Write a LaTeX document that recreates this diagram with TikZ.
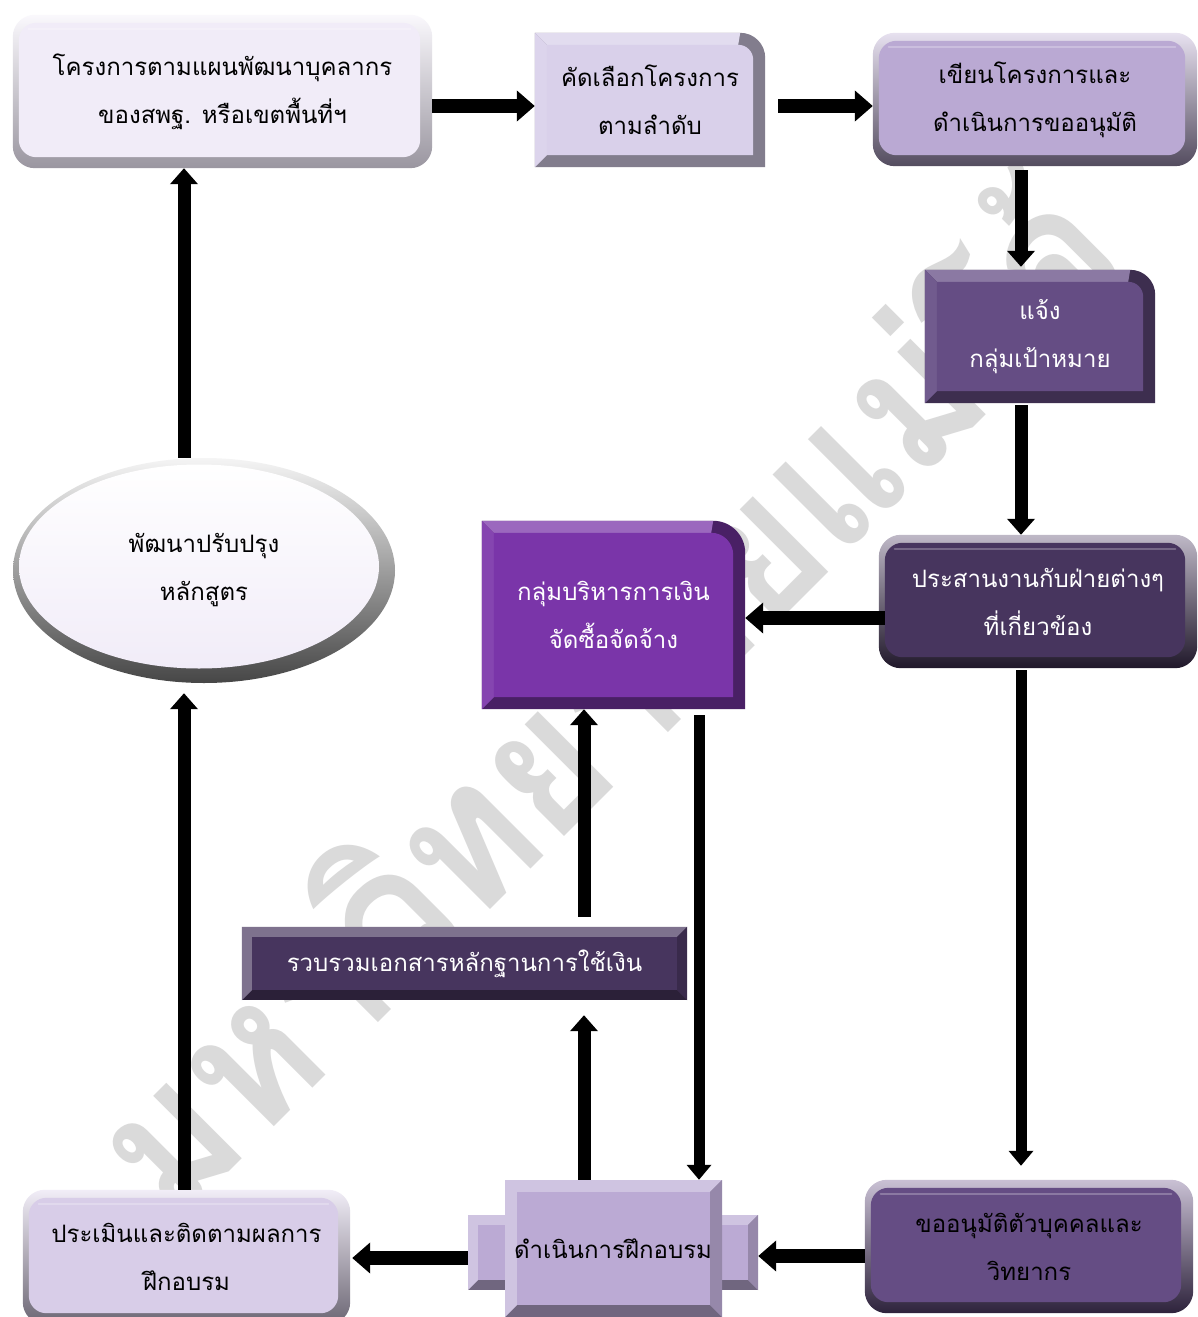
\documentclass[tikz,border=0pt]{standalone}
\usepackage{fontspec}
\newfontfamily\thai[Script=Thai]{Loma}
\usetikzlibrary{arrows.meta,calc,shapes.geometric}
\pgfdeclarelayer{wmlayer}
\pgfdeclarelayer{bglayer}
\pgfsetlayers{wmlayer,bglayer,main}
\definecolor{cA}{HTML}{F1ECF8}
\definecolor{rimA}{HTML}{9A96A0}
\definecolor{cB}{HTML}{D9D0EA}
\definecolor{cC}{HTML}{BAA9D3}
\definecolor{cD}{HTML}{654D84}
\definecolor{cE}{HTML}{47355E}
\definecolor{cF}{HTML}{7A35A9}
\definecolor{cH}{HTML}{654D84}
\definecolor{cI}{HTML}{BBAAD4}
\definecolor{cJ}{HTML}{D8CDE8}
\definecolor{wmc}{HTML}{DADADA}
\tikzset{
  txt/.style={font=\thai\fontsize{24}{48}\selectfont, align=center, inner sep=0pt, text=black},
  wtxt/.style={txt, text=white},
  arr/.style={draw=black, line width=14pt, -{Triangle[width=30pt,length=18pt]}},
  arrv/.style={draw=black, line width=13pt, -{Triangle[width=27pt,length=16pt]}},
  arrthin/.style={draw=black, line width=11pt, -{Triangle[width=24pt,length=15pt]}},
  wmark/.style={font=\thai\bfseries\fontsize{192}{220}\selectfont, text=wmc, inner sep=0pt}
}
% rounded convex box
\newcommand\bevround[4]{%
  \shade[rounded corners=#4, top color=#2!35!white, bottom color=#3] (#1.south west) rectangle (#1.north east);
  \fill[#2, rounded corners=#4*0.8] ($(#1.south west)+(6,11)$) rectangle ($(#1.north east)+(-12,-8)$);
  \draw[white, opacity=0.25, line width=2.5pt, line cap=round] ($(#1.north west)+(16,-14)$) -- ($(#1.north east)+(-22,-14)$);
}
% rectangle with chamfer bevel, given corners
\newcommand\bevrect[4]{%
  \coordinate (bsw) at #1; \coordinate (bne) at #2;
  \coordinate (bnw) at (bsw |- bne); \coordinate (bse) at (bne |- bsw);
  \coordinate (isw) at ($(bsw)+(#4,#4)$); \coordinate (ine) at ($(bne)+(-#4,-#4)$);
  \coordinate (inw) at (isw |- ine); \coordinate (ise) at (ine |- isw);
  \fill[#3!60!black] (bsw) rectangle (bne);
  \fill[#3!70!white] (bsw) -- (bnw) -- (bne) -- (ine) -- (inw) -- (isw) -- cycle;
  \fill[#3!80!black] (bse) -- (bne) -- (ine) -- (ise) -- cycle;
  \fill[#3] (isw) rectangle (ine);
}
% box with one rounded corner (north east) and chamfer bevel
\newcommand\bevcorner[3]{%
  \coordinate (bsw) at (#1.south west); \coordinate (bne) at (#1.north east);
  \coordinate (bnw) at (#1.north west); \coordinate (bse) at (#1.south east);
  \coordinate (isw) at ($(bsw)+(12,12)$); \coordinate (ine) at ($(bne)+(-12,-12)$);
  \coordinate (inw) at (isw |- ine); \coordinate (ise) at (ine |- isw);
  \fill[#2!60!black] (bsw) -- (bnw) -- ($(bne)+(-#3,0)$) arc[start angle=90,end angle=0,radius=#3] -- (bse) -- cycle;
  \fill[#2!75!white] (bnw) -- ($(bne)+(-#3,0)$) -- ($(ine)+(-#3+10,0)$) -- (inw) -- cycle;
  \fill[#2!92!white] (bsw) -- (bnw) -- (inw) -- (isw) -- cycle;
  \fill[#2] (isw) -- (inw) -- ($(ine)+(-#3+10,0)$) arc[start angle=90,end angle=0,radius=#3-10] -- (ise) -- cycle;
}
\begin{document}
\begin{tikzpicture}[x=1pt,y=1pt]
\useasboundingbox (0,0) rectangle (1197,-1317);

% ---------- nodes ----------
\node[txt, minimum width=419pt, minimum height=153pt] (A) at (222.5,-91.5) {โครงการตามแผนพัฒนาบุคลากร\\ของสพฐ. หรือเขตพื้นที่ฯ};
\node[txt, minimum width=230pt, minimum height=134pt] (B) at (650,-100) {คัดเลือกโครงการ\\ตามลำดับ};
\node[txt, minimum width=324pt, minimum height=133pt] (C) at (1035,-99.5) {เขียนโครงการและ\\ดำเนินการขออนุมัติ};
\node[wtxt, minimum width=230pt, minimum height=133pt] (D) at (1040,-336.5) {แจ้ง\\กลุ่มเป้าหมาย};
\node[wtxt, minimum width=318pt, minimum height=133pt] (E) at (1038,-601.5) {ประสานงานกับฝ่ายต่างๆ\\ที่เกี่ยวข้อง};
\node[wtxt, minimum width=263pt, minimum height=188pt] (F) at (613.5,-615) {กลุ่มบริหารการเงิน\\จัดซื้อจัดจ้าง};
\node[wtxt, minimum width=445pt, minimum height=73pt] (G) at (464.5,-963.5) {รวบรวมเอกสารหลักฐานการใช้เงิน};
\node[txt, minimum width=328pt, minimum height=133pt] (H) at (1029,-1246.5) {ขออนุมัติตัวบุคคลและ\\วิทยากร};
\node[txt, minimum width=290pt, minimum height=137pt] (I) at (613,-1248.5) {ดำเนินการฝึกอบรม};
\node[txt, minimum width=327pt, minimum height=134pt] (J) at (186.5,-1257) {ประเมินและติดตามผลการ\\ฝึกอบรม};
\node[txt, ellipse, minimum width=382pt, minimum height=225pt] (K) at (204,-570.5) {พัฒนาปรับปรุง\\หลักสูตร};

% ---------- background and watermark ----------
\begin{pgfonlayer}{wmlayer}
\fill[white] (0,0) rectangle (1197,-1317);
\node[wmark, rotate=45] (wm) at (598,-690) {\scalebox{0.9}[1]{มหาวิทยาลัยแม่โจ้}};
\end{pgfonlayer}

% ---------- shapes ----------
\begin{pgfonlayer}{bglayer}
\bevround{A}{cA}{rimA}{22}
\bevcorner{B}{cB}{25}
\bevround{C}{cC}{cC!45!black}{22}
\bevcorner{D}{cD}{25}
\bevround{E}{cE}{cE!45!black}{22}
\bevcorner{F}{cF}{32}
\bevrect{(G.south west)}{(G.north east)}{cE}{10}
\bevround{H}{cH}{cH!45!black}{22}
\bevround{J}{cJ}{cJ!50!black}{22}
% cross shape
\bevrect{($(I.center)+(-145,-41.5)$)}{($(I.center)+(-85,33.5)$)}{cI}{10}
\bevrect{($(I.center)+(85,-41.5)$)}{($(I.center)+(145,33.5)$)}{cI}{10}
\bevrect{($(I.center)+(-108,-68.5)$)}{($(I.center)+(109,68.5)$)}{cI}{12}
% ellipse
\shade[top color=gray!8, bottom color=gray!55!black] (K.center) ellipse [x radius=191, y radius=112.5];
\shade[top color=white, bottom color=cA] ($(K.center)+(-5,4)$) ellipse [x radius=180, y radius=102];
\end{pgfonlayer}

% ---------- connectors ----------
\coordinate (yab) at (0,-106);
\coordinate (xcd) at (1021,0);
\coordinate (yef) at (0,-618);
\coordinate (xfi) at (699,0);
\coordinate (xgf) at (584,0);
\coordinate (yhi) at (0,-1256);
\coordinate (yij) at (0,-1258);
\coordinate (xjk) at (184,0);

\draw[arr] (A.east |- yab) -- (B.west |- yab);
\draw[arr, shorten <=13pt] (B.east |- yab) -- (C.west |- yab);
\draw[arrv, shorten <=4pt, shorten >=3pt] (C.south -| xcd) -- (D.north -| xcd);
\draw[arrv, shorten <=2pt] (D.south -| xcd) -- (E.north -| xcd);
\draw[arr, shorten <=-6pt] (E.west |- yef) -- (F.east |- yef);
\draw[arrthin, shorten <=2pt, shorten >=14pt] (E.south -| xcd) -- (H.north -| xcd);
\draw[arrthin, shorten <=6pt] (F.south -| xfi) -- (I.north -| xfi);
\draw[arrv, shorten <=10pt] (G.north -| xgf) -- (F.south -| xgf);
\draw[arrv, shorten >=15pt] (I.north -| xgf) -- (G.south -| xgf);
\draw[arr] (H.west |- yhi) -- (I.east |- yhi);
\draw[arr, shorten >=2pt] (I.west |- yij) -- (J.east |- yij);
\draw[arrv, shorten >=10pt] (J.north -| xjk) -- (K.south -| xjk);
\draw[arrv] (K.north -| xjk) -- (A.south -| xjk);
\end{tikzpicture}
\end{document}
